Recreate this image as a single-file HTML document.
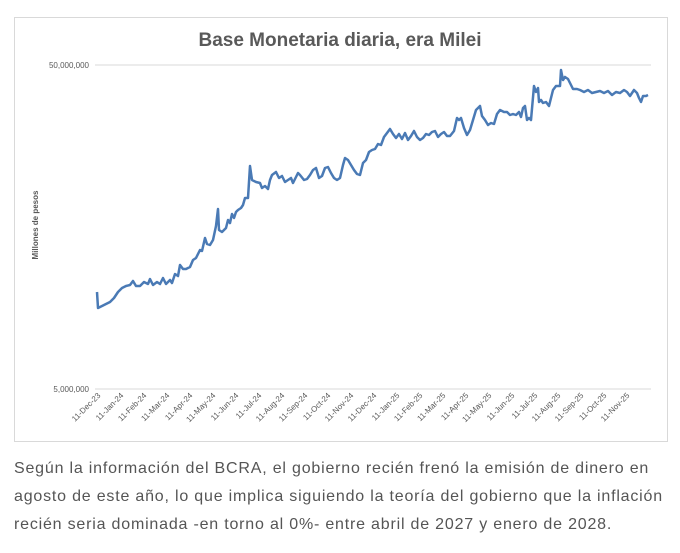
<!DOCTYPE html>
<html><head><meta charset="utf-8"><style>
body{margin:0;background:#fff;width:680px;height:553px;overflow:hidden;font-family:"Liberation Sans",sans-serif}
p{position:absolute;left:14px;top:455px;margin:0;width:680px;font-size:16px;line-height:28px;color:#555;letter-spacing:0.8px;white-space:nowrap}
</style></head><body>
<svg width="680" height="450" style="position:absolute;left:0;top:0">
<rect x="14.5" y="17.5" width="653" height="424" fill="#fff" stroke="#d9d9d9"/>
<text x="340" y="46" text-anchor="middle" font-size="19" font-weight="bold" fill="#595959">Base Monetaria diaria, era Milei</text>
<line x1="95" y1="65" x2="651" y2="65" stroke="#d9d9d9"/>
<line x1="95" y1="389" x2="651" y2="389" stroke="#d9d9d9"/>
<text x="89" y="68" text-anchor="end" font-size="8" fill="#595959">50,000,000</text>
<text x="89" y="392" text-anchor="end" font-size="8" fill="#595959">5,000,000</text>
<text transform="translate(38,225) rotate(-90)" text-anchor="middle" font-size="8" font-weight="bold" fill="#595959">Millones de pesos</text>
<polyline fill="none" stroke="#4a7ab5" stroke-width="2.5" stroke-linejoin="round" points="97,292 98,308 104,305 110,302 114,298 118,292 122,288 126,286 130,285 133,281 136,286 140,286 144,282 148,284 150,279 153,285 157,282 160,284 163,278 166,284 170,280 172,283 175,274 178,276 180,265 183,269 186,269 190,267 193,260 196,258 200,250 202,251 205,238 207,244 210,245 213,240 216,226 218,209 219,230 222,232 226,228 228,220 230,223 232,214 234,218 236,212 238,210 241,208 243,205 245,198 248,198 250,166 252,180 256,182 260,183 262,188 265,186 268,189 270,180 272,175 276,172 279,178 282,176 285,182 288,180 291,178 293,183 296,177 298,173 300,175 304,180 307,179 310,175 313,170 316,168 319,178 322,176 325,168 328,167 331,173 334,178 337,180 340,178 343,165 345,158 348,160 351,165 354,170 357,174 360,175 363,163 366,160 369,152 372,150 375,149 378,144 381,145 384,137 387,133 390,129 393,134 396,138 399,134 402,139 405,133 408,140 411,136 414,131 417,137 420,140 423,138 426,134 429,135 432,132 435,131 438,137 441,134 444,132 447,136 450,136 454,131 457,118 459,120 461,118 464,128 467,135 470,130 473,120 476,110 480,106 482,116 485,120 488,125 491,123 494,124 497,114 500,110 504,112 507,112 510,115 513,114 516,115 519,112 521,117 523,108 525,106 527,120 529,118 531,120 534,86 536,92 538,88 539,102 541,100 543,103 546,102 549,106 551,98 553,90 556,86 560,86 561,70 563,80 565,77 568,79 571,85 573,89 577,89 580,90 584,92 588,90 592,93 596,92 600,91 604,93 608,91 612,95 616,92 620,93 624,90 627,92 630,96 634,90 637,93 639,98 641,102 643,96 646,96 648,95"/>
<g font-size="8" fill="#595959" text-anchor="end">
<text transform="translate(101,396) rotate(-45)">11-Dec-23</text>
<text transform="translate(124,396) rotate(-45)">11-Jan-24</text>
<text transform="translate(147,396) rotate(-45)">11-Feb-24</text>
<text transform="translate(170,396) rotate(-45)">11-Mar-24</text>
<text transform="translate(193,396) rotate(-45)">11-Apr-24</text>
<text transform="translate(216,396) rotate(-45)">11-May-24</text>
<text transform="translate(239,396) rotate(-45)">11-Jun-24</text>
<text transform="translate(262,396) rotate(-45)">11-Jul-24</text>
<text transform="translate(285,396) rotate(-45)">11-Aug-24</text>
<text transform="translate(308,396) rotate(-45)">11-Sep-24</text>
<text transform="translate(331,396) rotate(-45)">11-Oct-24</text>
<text transform="translate(354,396) rotate(-45)">11-Nov-24</text>
<text transform="translate(377,396) rotate(-45)">11-Dec-24</text>
<text transform="translate(400,396) rotate(-45)">11-Jan-25</text>
<text transform="translate(423,396) rotate(-45)">11-Feb-25</text>
<text transform="translate(446,396) rotate(-45)">11-Mar-25</text>
<text transform="translate(469,396) rotate(-45)">11-Apr-25</text>
<text transform="translate(492,396) rotate(-45)">11-May-25</text>
<text transform="translate(515,396) rotate(-45)">11-Jun-25</text>
<text transform="translate(538,396) rotate(-45)">11-Jul-25</text>
<text transform="translate(561,396) rotate(-45)">11-Aug-25</text>
<text transform="translate(584,396) rotate(-45)">11-Sep-25</text>
<text transform="translate(607,396) rotate(-45)">11-Oct-25</text>
<text transform="translate(630,396) rotate(-45)">11-Nov-25</text>
</g>
</svg>
<p>Según la información del BCRA, el gobierno recién frenó la emisión de dinero en<br>agosto de este año, lo que implica siguiendo la teoría del gobierno que la inflación<br>recién seria dominada -en torno al 0%- entre abril de 2027 y enero de 2028.</p>
</body></html>
